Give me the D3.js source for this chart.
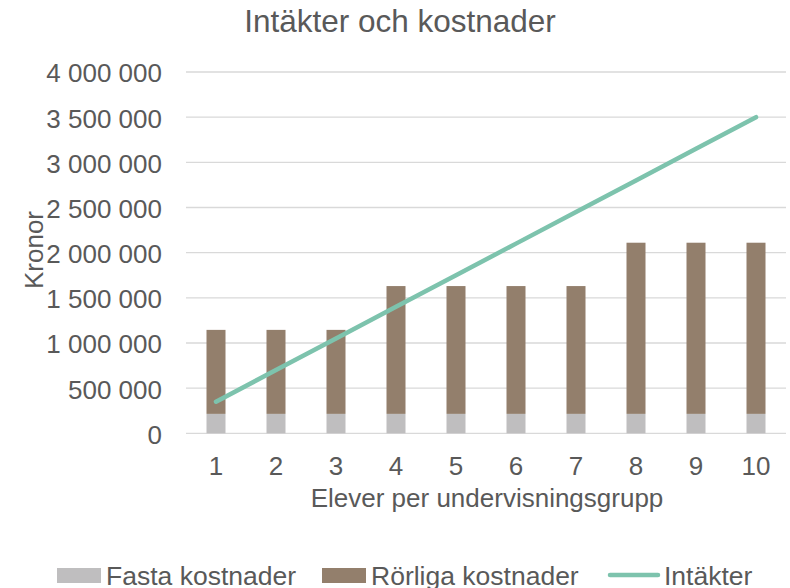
<!DOCTYPE html>
<meta charset="utf-8">
<head>
<title>Intäkter och kostnader</title>
<style>
body { margin: 0; background: #fff; }
svg { display: block; font-family: "Liberation Sans", Arial, sans-serif; }
.grid line { stroke: #d9d9d9; stroke-width: 1.3px; }
</style>
</head>
<body>
<script src="https://d3js.org/d3.v7.min.js"></script>
<div id="chart"></div>
<script>

  // data
  var elever = [1, 2, 3, 4, 5, 6, 7, 8, 9, 10];
  var fasta = [215000, 215000, 215000, 215000, 215000, 215000, 215000, 215000, 215000, 215000];
  var rorliga = [930000, 930000, 930000, 1415000, 1415000, 1415000, 1415000, 1895000, 1895000, 1895000];
  var intakter = [350000, 700000, 1050000, 1400000, 1750000, 2100000, 2450000, 2800000, 3150000, 3500000];
  var yTicks = [0, 500000, 1000000, 1500000, 2000000, 2500000, 3000000, 3500000, 4000000];

  var width = 790, height = 588;
  var plotLeft = 186, plotRight = 786, plotTop = 72, plotBottom = 433.3;

  var svg = d3.select('#chart').append('svg')
      .attr('width', width)
      .attr('height', height);

  var se = d3.formatLocale({decimal: ',', thousands: ' ', grouping: [3], currency: ['', ' kr']});
  var fmt = se.format(',d');

  var x = d3.scaleBand()
      .domain(elever)
      .range([plotLeft, plotRight])
      .paddingInner(41 / 60)
      .paddingOuter(41 / 120);

  var y = d3.scaleLinear()
      .domain([0, 4000000])
      .range([plotBottom, plotTop]);

  // gridlines
  svg.append('g')
      .attr('class', 'grid')
      .selectAll('line')
      .data(yTicks)
      .enter().append('line')
      .attr('x1', plotLeft)
      .attr('x2', plotRight)
      .attr('y1', function(d) { return y(d); })
      .attr('y2', function(d) { return y(d); });

  // y tick labels
  var yAxis = svg.append('g')
      .attr('transform', 'translate(' + plotLeft + ',0)')
      .call(d3.axisLeft(y).tickValues(yTicks).tickFormat(fmt).tickSize(0).tickPadding(24));
  yAxis.select('.domain').remove();
  yAxis.selectAll('text')
      .attr('dy', '0.38em')
      .style('font-size', '26px')
      .attr('fill', '#595959');

  // x tick labels
  var xAxis = svg.append('g')
      .attr('transform', 'translate(0,' + plotBottom + ')')
      .call(d3.axisBottom(x).tickSize(0).tickPadding(23));
  xAxis.select('.domain').remove();
  xAxis.selectAll('text')
      .attr('dy', '0.71em')
      .style('font-size', '26px')
      .attr('fill', '#595959');

  // stacked bars
  var stackData = elever.map(function(e, i) {
    return {e: e, fasta: fasta[i], rorliga: rorliga[i]};
  });
  var series = d3.stack().keys(['fasta', 'rorliga'])(stackData);
  var colors = {fasta: '#bfbebf', rorliga: '#937f6c'};

  svg.append('g').selectAll('g')
      .data(series)
      .enter().append('g')
      .attr('fill', function(d) { return colors[d.key]; })
      .selectAll('rect')
      .data(function(d) { return d; })
      .enter().append('rect')
      .attr('x', function(d) { return x(d.data.e); })
      .attr('width', x.bandwidth())
      .attr('y', function(d) { return y(d[1]); })
      .attr('height', function(d) { return y(d[0]) - y(d[1]); });

  // intäkter line
  var line = d3.line()
      .x(function(d, i) { return x(elever[i]) + x.bandwidth() / 2; })
      .y(function(d) { return y(d); });

  svg.append('path')
      .datum(intakter)
      .attr('d', line)
      .attr('fill', 'none')
      .attr('stroke', '#7dc3ad')
      .attr('stroke-width', 4.5)
      .attr('stroke-linecap', 'round')
      .attr('stroke-linejoin', 'round');

  // title and axis titles
  svg.append('text')
      .attr('x', 400)
      .attr('y', 32)
      .attr('text-anchor', 'middle')
      .attr('fill', '#595959')
      .style('font-size', '31.5px')
      .text('Intäkter och kostnader');

  svg.append('text')
      .attr('transform', 'translate(43,250) rotate(-90)')
      .attr('text-anchor', 'middle')
      .attr('fill', '#595959')
      .style('font-size', '26px')
      .text('Kronor');

  svg.append('text')
      .attr('x', 487)
      .attr('y', 507)
      .attr('text-anchor', 'middle')
      .attr('fill', '#595959')
      .style('font-size', '26px')
      .text('Elever per undervisningsgrupp');

  // legend
  var legend = [
    {name: 'Fasta kostnader', color: '#bfbebf', type: 'rect', x: 57},
    {name: 'Rörliga kostnader', color: '#937f6c', type: 'rect', x: 322},
    {name: 'Intäkter', color: '#7dc3ad', type: 'line', x: 608}
  ];
  var lg = svg.append('g').selectAll('g')
      .data(legend)
      .enter().append('g')
      .attr('transform', function(d) { return 'translate(' + d.x + ',0)'; });

  lg.filter(function(d) { return d.type === 'rect'; })
    .append('rect')
      .attr('x', 0)
      .attr('y', 568)
      .attr('width', 44)
      .attr('height', 15)
      .attr('fill', function(d) { return d.color; });

  lg.filter(function(d) { return d.type === 'line'; })
    .append('line')
      .attr('x1', 2)
      .attr('x2', 50)
      .attr('y1', 575)
      .attr('y2', 575)
      .attr('stroke', function(d) { return d.color; })
      .attr('stroke-width', 4.5)
      .attr('stroke-linecap', 'round');

  lg.append('text')
      .attr('x', function(d) { return d.type === 'line' ? 56 : 49; })
      .attr('y', 585)
      .attr('fill', '#595959')
      .style('font-size', '26.5px')
      .text(function(d) { return d.name; });

</script>
</body>
